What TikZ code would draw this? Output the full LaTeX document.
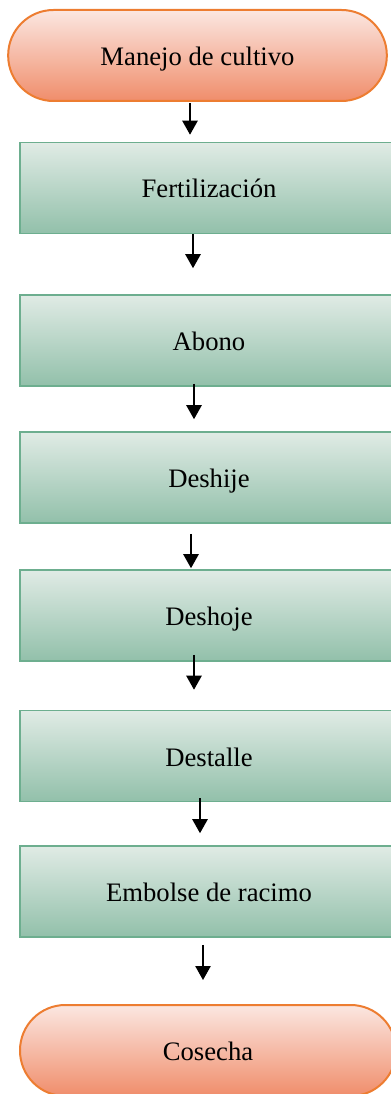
\documentclass[tikz,border=0pt]{standalone}
\usepackage{fontspec}
\setmainfont{Liberation Serif}
\usetikzlibrary{arrows.meta,calc}

\definecolor{termline}{HTML}{ED7D31}
\definecolor{termtop}{HTML}{FBE7E1}
\definecolor{termbot}{HTML}{F08D6B}
\definecolor{stepline}{HTML}{6DAE8F}
\definecolor{steptop}{HTML}{E0EBE5}
\definecolor{stepbot}{HTML}{92C0AA}

\begin{document}
\begin{tikzpicture}[x=0.75pt,y=-0.75pt,
    terminal/.style={rectangle,rounded corners=34pt,draw=termline,line width=1.5pt,
        top color=termtop,bottom color=termbot,minimum width=284pt,minimum height=68.25pt,
        text height=15pt,text depth=0pt,font=\fontsize{20}{24}\selectfont},
    stepbox/.style={rectangle,draw=stepline,line width=1.2pt,
        top color=steptop,bottom color=stepbot,minimum width=283.5pt,minimum height=68.25pt,
        text height=15pt,text depth=0pt,font=\fontsize{20}{24}\selectfont},
    flow/.style={-{Triangle[width=11.5pt,length=10.5pt]},line width=1.1pt}]
            \clip (0,0) rectangle (391,1094);
            % Nodes
            \node[terminal] (manejo) at (197.5,55.5) {Manejo de cultivo};
            \node[stepbox] (fert) at (209,188) {Fertilización};
            \node[stepbox] (abono) at (209,340.5) {Abono};
            \node[stepbox] (deshije) at (209,477.5) {Deshije};
            \node[stepbox] (deshoje) at (209,615.5) {Deshoje};
            \node[stepbox] (destalle) at (209,756) {Destalle};
            \node[stepbox] (embolse) at (209,891.5) {Embolse de racimo};
            \node[terminal,minimum width=282pt] (cosecha) at (208,1050.5) {Cosecha};
            % Edges
            \draw[flow,shorten <=0.75pt,shorten >=5.25pt] ($(manejo.south)+(-7.5,0)$) -- ($(fert.north)+(-19,0)$);
            \draw[flow,shorten >=19.5pt] ($(fert.south)+(-16,0)$) -- ($(abono.north)+(-16,0)$);
            \draw[flow,shorten <=-2.25pt,shorten >=9pt] ($(abono.south)+(-15,0)$) -- ($(deshije.north)+(-15,0)$);
            \draw[flow,shorten <=7.5pt,shorten >=0.75pt] ($(deshije.south)+(-18,0)$) -- ($(deshoje.north)+(-18,0)$);
            \draw[flow,shorten <=-5.25pt,shorten >=15pt] ($(deshoje.south)+(-15,0)$) -- ($(destalle.north)+(-15,0)$);
            \draw[flow,shorten <=-3pt,shorten >=9pt] ($(destalle.south)+(-9,0)$) -- ($(embolse.north)+(-9,0)$);
            \draw[flow,shorten <=5.25pt,shorten >=18pt] ($(embolse.south)+(-6,0)$) -- ($(cosecha.north)+(-5,0)$);
        \end{tikzpicture}
\end{document}
